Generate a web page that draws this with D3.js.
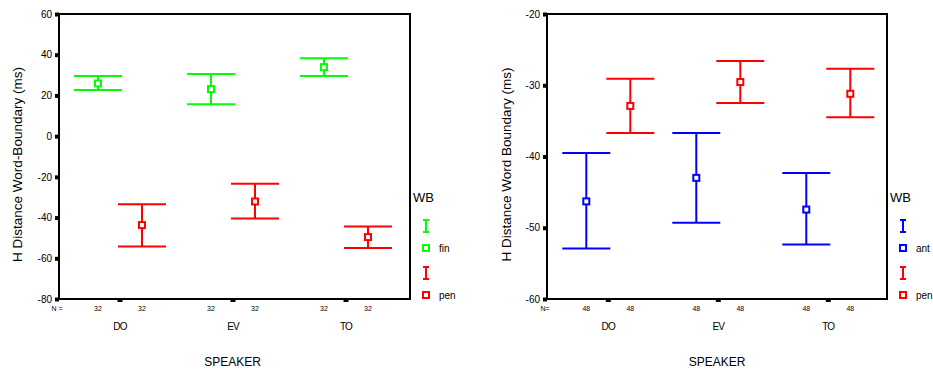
<!DOCTYPE html>
<html>
<head>
<meta charset="utf-8">
<script src="https://cdn.jsdelivr.net/npm/d3@7"></script>
<style>
  body { margin: 0; background: #fff; }
  svg { font-family: "Liberation Sans", Arial, sans-serif; }
</style>
</head>
<body>
<svg id="chart" width="933" height="372"></svg>
<script>
// speakers along the x axis
const speakers = ["DO", "EV", "TO"];

// left panel: H Distance Word-Boundary (ms), groups fin / pen
const leftGroups = ["fin", "pen"];
const finMean = [25.9, 23.1, 33.9];
const finLow  = [22.7, 15.7, 29.5];
const finHigh = [29.5, 30.5, 38.3];
const penMean = [-43.7, -32.1, -49.6];
const penLow  = [-54.2, -40.5, -55.0];
const penHigh = [-33.4, -23.4, -44.4];
const leftN = [32, 32];
const leftTicks = [-80, -60, -40, -20, 0, 20, 40, 60];

// right panel: H Distance Word Boundary (ms), groups ant / pen
const rightGroups = ["ant", "pen"];
const antMean = [-46.3, -43.0, -47.45];
const antLow  = [-52.9, -49.3, -52.35];
const antHigh = [-39.5, -36.7, -42.3];
const pen2Mean = [-32.9, -29.55, -31.2];
const pen2Low  = [-36.7, -32.5, -34.5];
const pen2High = [-29.1, -26.6, -27.7];
const rightN = [48, 48];
const rightTicks = [-60, -50, -40, -30, -20];

const svg = d3.select("#chart");

function drawPanel(p) {
    let x = d3.scaleBand()
        .domain(speakers)
        .range([p.bandLeft, p.bandRight]);
    let xg = d3.scalePoint()
        .domain(p.groups)
        .range([-22, 22]);
    let y = d3.scaleLinear()
        .domain(p.domain)
        .range([p.bottom, p.top]);
    let cx = s => x(s) + x.bandwidth() / 2;

    const g = svg.append("g");

    // y axis with block ticks (plain hyphen for negatives, like the original)
    let yAxis = g.append("g")
        .attr("transform", `translate(${p.left},0)`)
        .call(d3.axisLeft(y).tickValues(p.ticks).tickSize(4).tickPadding(3)
            .tickFormat(d => String(d)));
    yAxis.select(".domain").remove();
    yAxis.selectAll(".tick line").attr("stroke-width", 4).attr("stroke", "#000");
    yAxis.selectAll(".tick text")
        .attr("font-size", 10).attr("fill", "#000")
        .attr("font-family", "Liberation Sans, Arial, sans-serif");

    // x axis category ticks
    let xAxis = g.append("g")
        .attr("transform", `translate(0,${p.bottom})`)
        .call(d3.axisBottom(x).tickSize(3).tickFormat(""));
    xAxis.select(".domain").remove();
    xAxis.selectAll(".tick line").attr("stroke-width", 5).attr("stroke", "#000");

    // frame
    g.append("rect")
        .attr("x", p.left).attr("y", p.top)
        .attr("width", p.right - p.left).attr("height", p.bottom - p.top)
        .attr("fill", "none").attr("stroke", "#000").attr("stroke-width", 2);

    // error bars
    p.series.forEach((s, si) => {
        const eg = g.append("g").attr("stroke", s.color).attr("fill", "none").attr("stroke-width", 2);
        speakers.forEach((sp, i) => {
            let xc = cx(sp) + xg(p.groups[si]);
            eg.append("line").attr("x1", xc).attr("x2", xc)
                .attr("y1", y(s.high[i])).attr("y2", y(s.low[i]));
            eg.append("line").attr("x1", xc - 24).attr("x2", xc + 24)
                .attr("y1", y(s.high[i])).attr("y2", y(s.high[i]));
            eg.append("line").attr("x1", xc - 24).attr("x2", xc + 24)
                .attr("y1", y(s.low[i])).attr("y2", y(s.low[i]));
            eg.append("rect").attr("x", xc - 3).attr("y", y(s.mean[i]) - 3)
                .attr("width", 6).attr("height", 6).attr("fill", "#fff");
        });
    });

    // N row
    g.append("text").attr("x", p.left - 2).attr("y", 311)
        .attr("text-anchor", "middle").attr("font-size", 7).text(p.nLabel);
    speakers.forEach(sp => {
        p.groups.forEach((gr, gi) => {
            g.append("text").attr("x", cx(sp) + xg(gr)).attr("y", 311)
                .attr("text-anchor", "middle").attr("font-size", 7)
                .text(p.n[gi]);
        });
        g.append("text").attr("x", cx(sp)).attr("y", 330)
            .attr("text-anchor", "middle").attr("font-size", 10)
            .attr("letter-spacing", -0.8).text(sp);
    });

    // axis titles
    g.append("text")
        .attr("x", (p.left + p.right) / 2 + p.titleShift).attr("y", 366)
        .attr("text-anchor", "middle").attr("font-size", 12).text("SPEAKER");
    g.append("text")
        .attr("transform", `translate(${p.yTitleX},${(p.top + p.bottom) / 2 + 8}) rotate(-90)`)
        .attr("text-anchor", "middle").attr("font-size", 13.5).text(p.yTitle);

    // legend
    const lx = p.right + 16;
    g.append("text").attr("x", p.right + 3).attr("y", 202)
        .attr("font-size", 13).text("WB");
    p.series.forEach((s, si) => {
        let top = 220 + si * 47;
        const lg = g.append("g").attr("stroke", s.color).attr("stroke-width", 2).attr("fill", "none");
        lg.append("line").attr("x1", lx).attr("x2", lx).attr("y1", top).attr("y2", top + 12);
        lg.append("line").attr("x1", lx - 3).attr("x2", lx + 3).attr("y1", top).attr("y2", top);
        lg.append("line").attr("x1", lx - 3).attr("x2", lx + 3).attr("y1", top + 12).attr("y2", top + 12);
        lg.append("rect").attr("x", lx - 3).attr("y", top + 25).attr("width", 6).attr("height", 6);
        g.append("text").attr("x", lx + 13).attr("y", top + 32)
            .attr("font-size", 10).text(p.groups[si]);
    });
}

drawPanel({
    left: 59, right: 410, top: 14, bottom: 299,
    bandLeft: 63.5, bandRight: 402.5,
    domain: [-80, 60], ticks: leftTicks,
    groups: leftGroups, n: leftN, nLabel: "N =",
    yTitle: "H Distance Word-Boundary (ms)", yTitleX: 22, titleShift: -2,
    series: [
        {color: "#00ff00", mean: finMean, low: finLow, high: finHigh},
        {color: "#ff0000", mean: penMean, low: penLow, high: penHigh}
    ]
});

drawPanel({
    left: 547, right: 887, top: 14, bottom: 299,
    bandLeft: 553.3, bandRight: 883.3,
    domain: [-60, -20], ticks: rightTicks,
    groups: rightGroups, n: rightN, nLabel: "N=",
    yTitle: "H Distance Word Boundary (ms)", yTitleX: 511, titleShift: 0,
    series: [
        {color: "#0000ff", mean: antMean, low: antLow, high: antHigh},
        {color: "#ff0000", mean: pen2Mean, low: pen2Low, high: pen2High}
    ]
});
</script>
</body>
</html>
